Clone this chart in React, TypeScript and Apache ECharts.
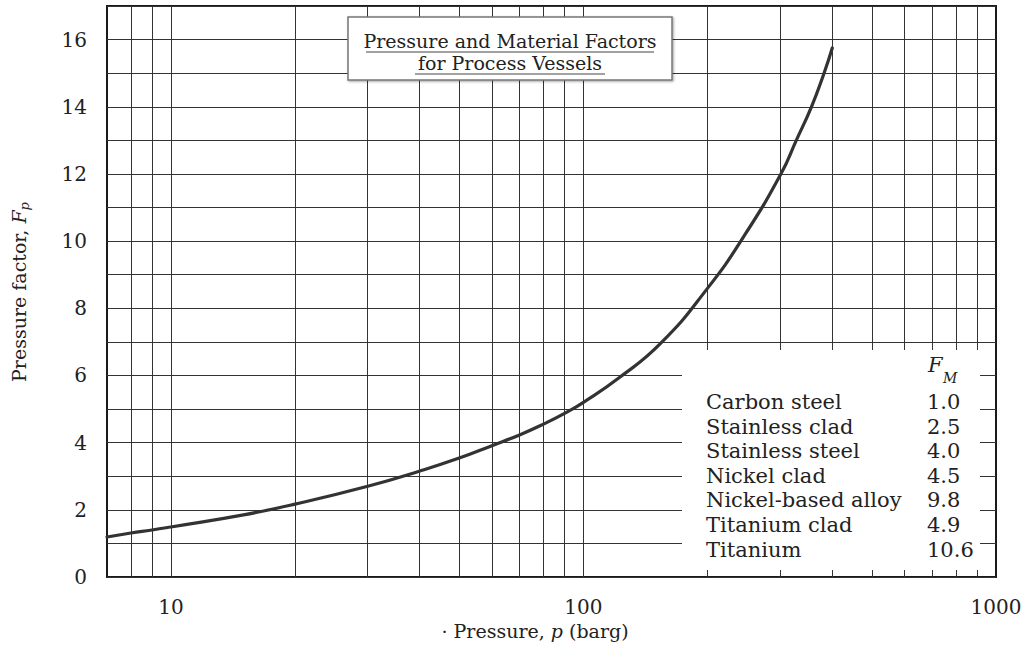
import React, { useEffect, useRef } from "react";
import * as echarts from "echarts";

// Curve: pressure factor Fp vs pressure p (barg)
const pressure = [7, 8, 9, 10, 15, 20, 30, 40, 50, 60, 70, 80, 90, 100, 122, 154, 200, 245, 301, 328, 357, 383, 401];
const pressureFactor = [1.19, 1.31, 1.4, 1.49, 1.85, 2.17, 2.7, 3.15, 3.54, 3.91, 4.23, 4.55, 4.87, 5.2, 5.93, 6.96, 8.6, 10.15, 12.0, 13.0, 14.0, 15.0, 15.75];

// Material factor table
const materials = ["Carbon steel", "Stainless clad", "Stainless steel", "Nickel clad", "Nickel-based alloy", "Titanium clad", "Titanium"];
const materialFactors = ["1.0", "2.5", "4.0", "4.5", "9.8", "4.9", "10.6"];

// Axes
const xGridValues = [8, 9, 10, 20, 30, 40, 50, 60, 70, 80, 90, 100, 200, 300, 400, 500, 600, 700, 800, 900];
const xTickLabels = [10, 100, 1000];
const yTickLabels = [0, 2, 4, 6, 8, 10, 12, 14, 16];

const titleLines = ["Pressure and Material Factors", "for Process Vessels"];

const FONT = "'DejaVu Serif', 'Liberation Serif', serif";
const INK = "#222";

export default function App() {
  const ref = useRef<HTMLDivElement>(null);

  useEffect(() => {
    if (!ref.current) return;
    const chart = echarts.init(ref.current, null, { renderer: "svg" });

    const legendTexts: any[] = [];
    materials.forEach((m, i) => {
      const y = 402 + i * 24.6;
      legendTexts.push({
        type: "text",
        z: 101,
        x: 706,
        y,
        style: { text: m, font: `21px ${FONT}`, fill: INK, align: "left", verticalAlign: "middle" },
      });
      legendTexts.push({
        type: "text",
        z: 101,
        x: 927,
        y,
        style: { text: materialFactors[i], font: `21px ${FONT}`, fill: INK, align: "left", verticalAlign: "middle" },
      });
    });

    const option: any = {
      animation: false,
      backgroundColor: "#fff",
      grid: {
        left: 107,
        right: 34,
        top: 6,
        bottom: 75,
        show: true,
        borderColor: "#1a1a1a",
        borderWidth: 2,
        containLabel: false,
      },
      xAxis: {
        type: "log",
        logBase: 10,
        min: 7,
        max: 1000,
        axisLine: { show: false },
        axisTick: { show: false },
        splitLine: { show: false },
        axisLabel: {
          margin: 20,
          fontFamily: FONT,
          fontSize: 20,
          color: INK,
          showMinLabel: true,
          showMaxLabel: true,
          formatter: (v: number) => {
            const r = Math.round(v);
            return xTickLabels.includes(r) && Math.abs(v - r) < 1e-6 ? String(r) : "";
          },
        },
      },
      yAxis: {
        type: "value",
        min: 0,
        max: 17,
        interval: 1,
        axisLine: { show: false },
        axisTick: { show: false },
        splitLine: { show: true, lineStyle: { color: "#333", width: 1 } },
        axisLabel: {
          margin: 20,
          fontFamily: FONT,
          fontSize: 20,
          color: INK,
          formatter: (v: number) => (yTickLabels.includes(v) ? String(v) : ""),
        },
      },
      series: [
        {
          type: "line",
          data: pressure.map((p, i) => [p, pressureFactor[i]]),
          showSymbol: false,
          symbol: "none",
          smooth: 0.5,
          lineStyle: { color: "#333", width: 3.2, cap: "round" },
          z: 10,
          silent: true,
          markLine: {
            silent: true,
            symbol: ["none", "none"],
            label: { show: false },
            emphasis: { disabled: true },
            lineStyle: { color: "#333", width: 1, type: "solid" },
            data: xGridValues.map((v) => ({ xAxis: v })),
          },
        },
      ],
      graphic: [
        // material factor table (white panel over the grid)
        {
          type: "rect",
          z: 100,
          shape: { x: 682, y: 350, width: 298, height: 220 },
          style: { fill: "#fff", stroke: null },
        },
        {
          type: "text",
          z: 101,
          x: 928,
          y: 365,
          style: { text: "F", font: `italic 21px ${FONT}`, fill: INK, align: "left", verticalAlign: "middle" },
        },
        {
          type: "text",
          z: 101,
          x: 943,
          y: 378,
          style: { text: "M", font: `italic 14px ${FONT}`, fill: INK, align: "left", verticalAlign: "middle" },
        },
        ...legendTexts,
        // title box
        {
          type: "rect",
          z: 100,
          shape: { x: 348, y: 17, width: 324, height: 63 },
          style: {
            fill: "#fff",
            stroke: "#777",
            lineWidth: 1.5,
            shadowColor: "rgba(0,0,0,0.35)",
            shadowBlur: 2,
            shadowOffsetX: 1,
            shadowOffsetY: 1,
          },
        },
        {
          type: "text",
          z: 101,
          x: 510,
          y: 41,
          style: { text: titleLines[0], font: `19px ${FONT}`, fill: INK, align: "center", verticalAlign: "middle" },
        },
        {
          type: "line",
          z: 101,
          shape: { x1: 366, y1: 52, x2: 654, y2: 52 },
          style: { stroke: "#444", lineWidth: 1 },
        },
        {
          type: "text",
          z: 101,
          x: 510,
          y: 63,
          style: { text: titleLines[1], font: `19px ${FONT}`, fill: INK, align: "center", verticalAlign: "middle" },
        },
        {
          type: "line",
          z: 101,
          shape: { x1: 415, y1: 74, x2: 605, y2: 74 },
          style: { stroke: "#444", lineWidth: 1 },
        },
        // axis names
        {
          type: "text",
          z: 101,
          x: 535,
          y: 631,
          style: {
            text: "· Pressure, {i|p} (barg)",
            font: `19px ${FONT}`,
            fill: INK,
            align: "center",
            verticalAlign: "middle",
            rich: { i: { fontStyle: "italic", fontFamily: FONT, fontSize: 19, fill: INK } },
          },
        },
        {
          type: "text",
          z: 101,
          x: 19,
          y: 292,
          rotation: Math.PI / 2,
          style: {
            text: "Pressure factor, {i|F}{s|p}",
            font: `19px ${FONT}`,
            fill: INK,
            align: "center",
            verticalAlign: "middle",
            rich: {
              i: { fontStyle: "italic", fontFamily: FONT, fontSize: 19, fill: INK },
              s: { fontStyle: "italic", fontFamily: FONT, fontSize: 13, fill: INK, padding: [10, 0, 0, 0] },
            },
          },
        },
      ],
    };

    chart.setOption(option);
    return () => chart.dispose();
  }, []);

  return (
    <div
      ref={ref}
      style={{ position: "fixed", left: 0, top: 0, width: 1030, height: 652, background: "#fff" }}
    />
  );
}
